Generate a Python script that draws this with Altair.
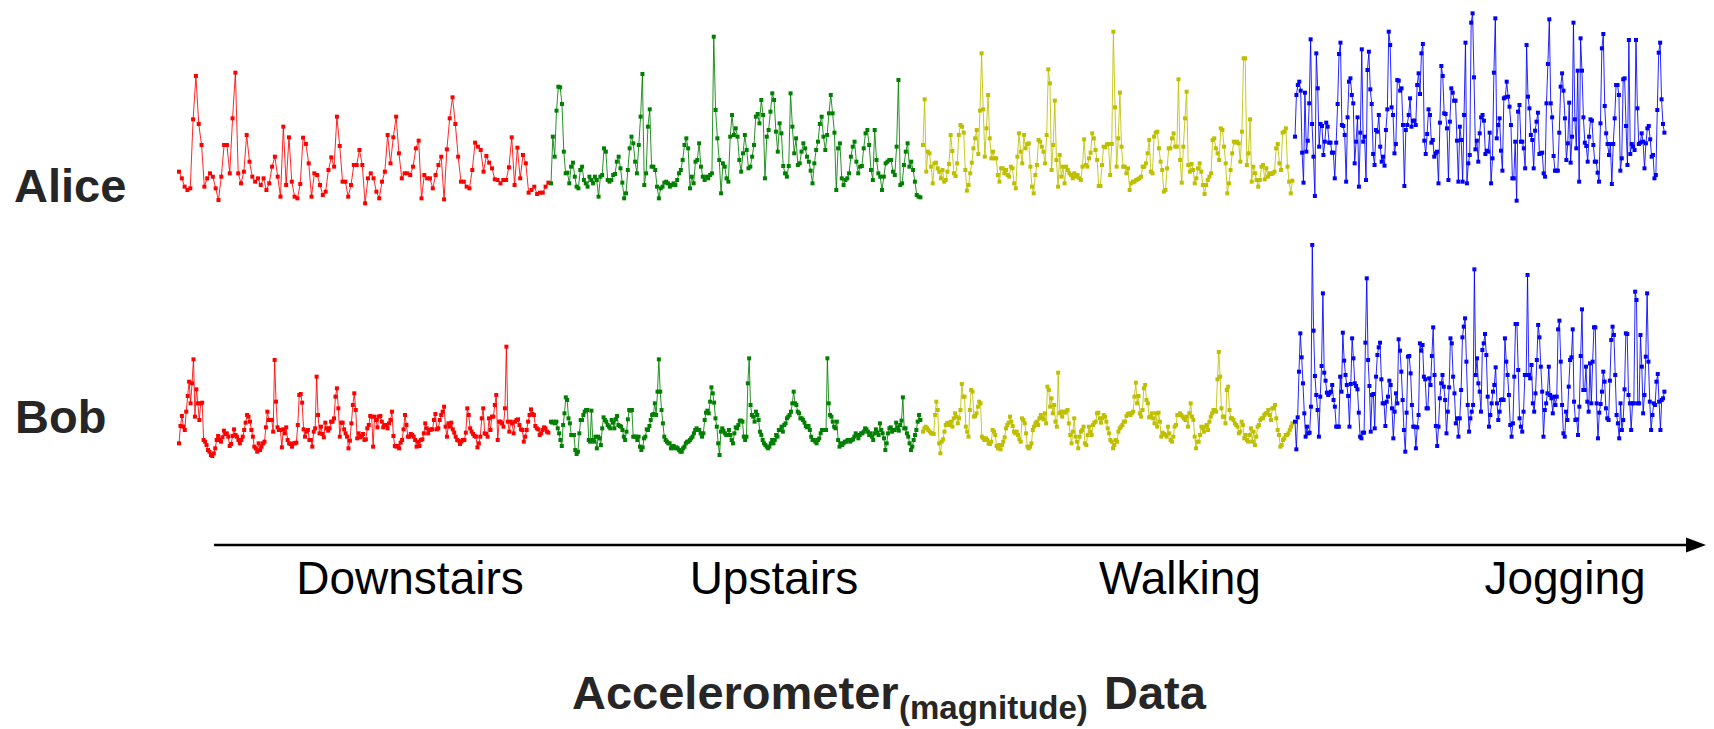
import altair as alt
import pandas as pd

activities = ["Downstairs", "Upstairs", "Walking", "Jogging"]
colors = ["#ff0000", "#008000", "#bfbf00", "#0000ff"]

alice_downstairs = [115,95,70,60,65,272,402,258,195,70,95,110,100,65,30,100,195,195,110,275,412,110,80,115,225,145,100,85,95,75,95,60,80,130,160,100,40,250,75,218,85,40,35,78,217,198,140,40,110,105,75,45,55,120,158,130,280,192,85,85,40,75,135,135,180,135,20,95,110,95,55,35,85,115,225,140,218,280,170,95,110,110,105,130,185,208,35,105,95,95,65,105,135,160,32,182,275,338,258,160,85,85,70,65,120,202,190,180,115,162,142,125,92,90,80,90,90,128,218,75,187,95,165,140,52,60,70,48,52,52,70,82]
alice_upstairs = [80,220,160,298,370,368,318,175,110,112,80,130,142,100,70,65,120,130,90,80,70,100,90,80,100,90,40,100,105,185,175,90,85,90,105,108,145,160,125,82,35,50,120,185,220,200,145,110,195,280,408,75,110,250,302,130,130,120,70,35,65,70,82,85,80,70,75,80,75,90,110,120,150,195,215,185,65,100,80,145,150,200,130,100,90,100,95,105,110,520,300,215,150,50,140,130,95,85,220,285,225,245,220,150,115,170,225,180,125,130,160,195,280,288,260,330,285,95,220,240,295,350,330,235,175,260,230,132,110,100,132,350,250,170,215,135,140,175,200,185,160,145,118,80,140,180,205,258,280,220,180,225,290,345,290,232,60,185,200,95,75,90,95,110,160,190,205,145,110,130,132,185,230,240,195,120,90,240,150,110,100,60,100,140,145,150,150,115,105,190,390,75,80,135,175,200,130,145,120,85,45,40,38]
alice_walking = [195,332,115,175,170,130,80,140,142,125,115,95,120,85,90,115,138,225,177,110,102,140,225,255,250,232,120,58,75,110,142,185,215,240,168,298,470,302,160,245,345,215,155,175,155,155,105,85,125,125,110,120,105,100,130,125,80,65,160,230,175,140,225,185,198,200,130,70,50,105,135,210,205,190,175,140,225,422,380,120,195,328,150,70,165,100,130,80,130,120,110,105,95,110,100,105,95,90,130,212,135,130,155,172,230,215,180,150,72,72,135,190,188,197,198,105,198,535,308,130,215,352,190,130,130,110,125,60,80,85,85,90,92,95,100,130,130,140,170,210,115,110,220,232,235,185,145,120,55,60,125,185,185,215,230,190,190,392,150,82,190,275,355,135,115,138,120,80,95,125,140,115,75,48,75,90,100,110,210,215,185,170,150,245,240,190,140,50,80,120,170,205,202,205,200,145,235,455,455,135,170,272,85,130,110,90,70,90,130,135,92,125,100,110,108,110,115,185,198,140,120,232,235,245,130,85,50,88]
alice_jogging = [220,345,375,385,358,172,82,352,175,208,320,512,258,160,42,470,365,190,258,252,165,205,262,250,202,202,172,172,95,202,318,468,502,255,252,225,85,278,385,395,345,320,140,205,278,70,232,482,205,220,90,420,475,362,318,168,135,240,235,285,190,145,160,133,240,302,535,495,308,285,170,198,390,388,358,365,255,72,240,255,285,335,250,268,268,255,375,410,348,470,498,208,168,228,302,285,202,210,160,170,175,80,262,432,402,290,288,245,90,265,365,352,328,328,208,85,250,210,85,285,502,80,140,165,562,590,398,182,208,145,230,278,285,268,168,178,175,232,80,155,412,575,215,255,275,178,118,335,338,385,340,310,255,95,95,205,28,295,315,205,205,185,125,495,340,305,225,210,125,238,265,292,168,170,172,110,100,320,438,572,320,278,162,118,118,118,232,370,410,358,275,150,200,322,142,220,562,272,185,418,85,515,418,278,202,192,145,220,272,268,195,145,145,112,85,260,485,528,312,230,198,165,198,78,198,275,375,375,345,118,155,392,395,252,135,510,168,198,190,180,510,305,198,202,230,205,125,200,245,252,212,160,165,95,105,300,472,502,332,258,232]

bob_downstairs = [50,102,132,100,90,145,192,235,170,230,302,130,212,170,120,170,172,60,55,45,30,25,15,12,20,35,60,72,60,55,68,88,78,80,70,42,48,72,92,75,70,60,50,60,70,90,112,135,130,115,90,70,40,35,25,50,30,40,50,55,98,145,120,120,120,85,300,175,98,90,90,38,92,80,98,60,50,48,40,50,50,52,105,195,198,172,92,70,85,90,60,60,40,85,95,250,135,80,100,78,68,112,95,88,95,115,115,125,190,215,155,70,112,112,92,80,70,35,58,110,165,200,150,65,80,68,72,78,60,62,95,105,132,130,40,130,120,98,130,132,115,98,105,105,95,110,120,145,72,42,40,42,35,52,60,92,135,105,70,70,78,75,70,60,40,55,42,60,62,80,110,95,80,90,92,92,120,138,92,95,120,135,145,160,100,70,110,100,112,92,82,70,60,58,48,55,60,60,82,155,135,95,85,78,72,70,38,50,70,125,155,80,78,70,125,90,130,130,165,195,60,115,115,110,100,155,340,115,85,115,110,80,115,120,122,105,92,90,55,70,90,115,135,152,138,135,102,95,92,75,80,90,98,95,85,82]
bob_upstairs = [115,112,115,110,115,95,80,60,42,105,140,188,180,125,110,75,75,75,30,18,25,80,120,120,135,145,150,150,60,55,148,60,55,70,35,70,65,45,95,128,120,115,105,100,95,120,112,95,122,132,105,102,100,90,70,60,85,122,150,148,150,70,70,70,60,70,40,30,38,65,70,92,90,102,120,135,138,170,135,205,302,205,150,110,70,60,55,50,50,35,40,42,35,38,35,30,25,25,35,40,50,55,55,60,65,70,80,90,95,90,90,80,70,80,120,142,148,140,175,218,200,172,125,100,50,15,85,95,88,80,75,75,90,75,60,50,80,98,95,105,118,118,115,70,60,70,230,305,165,135,130,115,145,135,120,85,75,60,50,45,40,35,40,50,60,50,60,75,70,90,90,100,85,105,110,125,130,135,145,170,205,170,165,145,140,125,125,120,112,102,98,102,90,70,60,60,55,50,60,65,80,90,90,90,90,305,170,135,130,115,100,95,115,60,40,50,45,50,55,55,60,60,55,60,62,70,80,75,65,75,80,80,85,95,92,85,75,80,70,60,80,92,82,75,110,90,80,65,30,50,80,95,98,85,90,90,112,98,88,105,118,188,95,95,80,70,50,30,40,60,75,90,115,135,120]
bob_walking = [85,95,100,95,90,85,80,80,78,135,175,150,50,20,55,62,85,105,110,112,105,115,100,125,140,130,110,125,150,228,190,190,100,85,70,150,210,205,130,132,140,160,175,170,70,65,60,65,60,50,48,55,90,85,75,42,35,45,32,45,55,68,95,105,112,130,115,102,85,80,85,75,62,55,125,120,110,80,40,35,40,50,90,100,110,115,105,125,135,128,122,140,110,220,210,160,185,140,165,115,100,262,140,145,130,145,142,145,150,110,75,50,85,125,70,55,35,70,85,90,100,50,45,75,100,85,75,105,112,115,140,142,125,112,125,135,130,115,95,80,60,55,35,45,60,55,85,95,100,105,115,115,132,138,140,135,140,145,190,232,170,192,140,130,150,215,225,180,170,128,130,140,125,110,140,100,142,115,70,82,78,75,70,100,80,60,55,70,100,105,135,135,140,135,130,125,120,130,100,140,170,130,120,70,35,55,55,75,100,95,85,100,105,90,115,130,140,150,150,145,242,324,250,155,130,130,110,210,220,150,125,125,120,110,105,100,80,85,115,105,65,75,60,55,75,95,55,85,45,70,100,105,120,125,125,135,140,140,150,135,120,155,155,165,125,90,75,40,45,60,65,75,75,80,90,100,110]
bob_jogging = [115,32,128,265,380,308,230,140,70,100,80,82,160,645,388,252,195,150,70,190,282,500,262,238,202,195,200,205,225,180,160,100,100,100,250,205,382,298,255,225,192,100,228,365,305,230,222,212,142,70,65,82,82,352,545,300,222,85,195,198,95,250,315,338,352,242,170,170,102,175,190,238,225,155,65,145,200,170,362,328,265,180,90,25,142,310,312,260,165,100,100,35,98,135,350,328,345,250,242,155,155,245,225,312,398,255,102,42,100,185,230,255,220,180,80,145,218,365,350,250,200,110,125,70,125,210,368,400,425,295,165,85,125,145,165,572,255,305,230,205,145,330,350,378,315,190,100,135,170,205,225,278,170,120,145,180,182,180,365,295,255,195,105,70,110,250,408,408,270,125,100,85,145,255,255,555,255,245,285,170,145,200,300,405,368,280,205,70,150,170,200,280,195,185,140,190,165,190,392,418,295,165,80,70,145,120,220,300,308,392,175,120,122,75,160,312,452,210,210,280,175,145,290,170,295,398,398,170,65,142,168,205,265,235,155,125,120,238,360,400,375,255,135,110,65,170,90,120,212,380,378,195,170,90,170,170,505,480,170,170,375,280,140,195,310,500,295,175,90,135,170,165,235,258,175,90,180,185,205]

alice_series = [alice_downstairs, alice_upstairs, alice_walking, alice_jogging]
bob_series = [bob_downstairs, bob_upstairs, bob_walking, bob_jogging]

title_main = "Accelerometer"
title_sub = "(magnitude)"
title_end = "Data"


def build_frame(series):
    rows = []
    for k, (act, vals) in enumerate(zip(activities, series)):
        n = len(vals)
        for i, v in enumerate(vals):
            rows.append({"activity": act, "t": k + i / (n - 1) * 0.993, "v": v})
    return pd.DataFrame(rows)


X_SCALE = alt.Scale(domain=[0, 4], range=[179, 1667])
COLOR = alt.Color("activity:N", scale=alt.Scale(domain=activities, range=colors), legend=None)


def person_layer(series, y_max, y_range):
    base = alt.Chart(build_frame(series)).encode(
        x=alt.X("t:Q", scale=X_SCALE, axis=None),
        y=alt.Y("v:Q", scale=alt.Scale(domain=[0, y_max], range=y_range), axis=None),
        color=COLOR,
        detail="activity:N",
        order="t:Q",
    )
    line = base.mark_line(strokeWidth=1, opacity=0.85)
    pts = base.mark_point(shape="square", filled=True, size=16, opacity=1)
    return alt.layer(line, pts)


alice = person_layer(alice_series, 630, [210, 0])
bob = person_layer(bob_series, 690, [460, 230])

dummy = pd.DataFrame({"d": [0]})
FONT = "Liberation Sans"


def text(label, x, y, size, bold=False, align="left", color="#262626"):
    return alt.Chart(dummy).mark_text(
        text=label, font=FONT, fontSize=size, fontWeight="bold" if bold else "normal",
        align=align, baseline="alphabetic", color=color,
    ).encode(x=alt.value(x), y=alt.value(y))


texts = [
    text("Alice", 14, 202, 47, bold=True),
    text("Bob", 15, 433, 47, bold=True),
    text(activities[0], 410, 594, 46, align="center", color="#000000"),
    text(activities[1], 774, 594, 46, align="center", color="#000000"),
    text(activities[2], 1180, 594, 46, align="center", color="#000000"),
    text(activities[3], 1565, 594, 46, align="center", color="#000000"),
    text(title_main, 572, 709, 47, bold=True),
    text(title_sub, 899, 719, 33, bold=True),
    text(title_end, 1104, 709, 47, bold=True),
]

arrow_line = alt.Chart(dummy).mark_rule(strokeWidth=2.5, color="#000000").encode(
    x=alt.value(214), x2=alt.value(1690), y=alt.value(545)
)
arrow_head = alt.Chart(dummy).mark_point(
    shape="M-1,-0.75L1,0L-1,0.75Z", filled=True, size=400, color="#000000", opacity=1
).encode(x=alt.value(1696), y=alt.value(545))

chart = alt.layer(alice, bob, arrow_line, arrow_head, *texts).resolve_scale(
    y="independent"
).properties(
    width=1714, height=729, padding=0, autosize=alt.AutoSizeParams(type="none"),
    background="white",
).configure_view(stroke=None)

chart.save("out.html", embed_options={"renderer": "svg", "actions": False})
